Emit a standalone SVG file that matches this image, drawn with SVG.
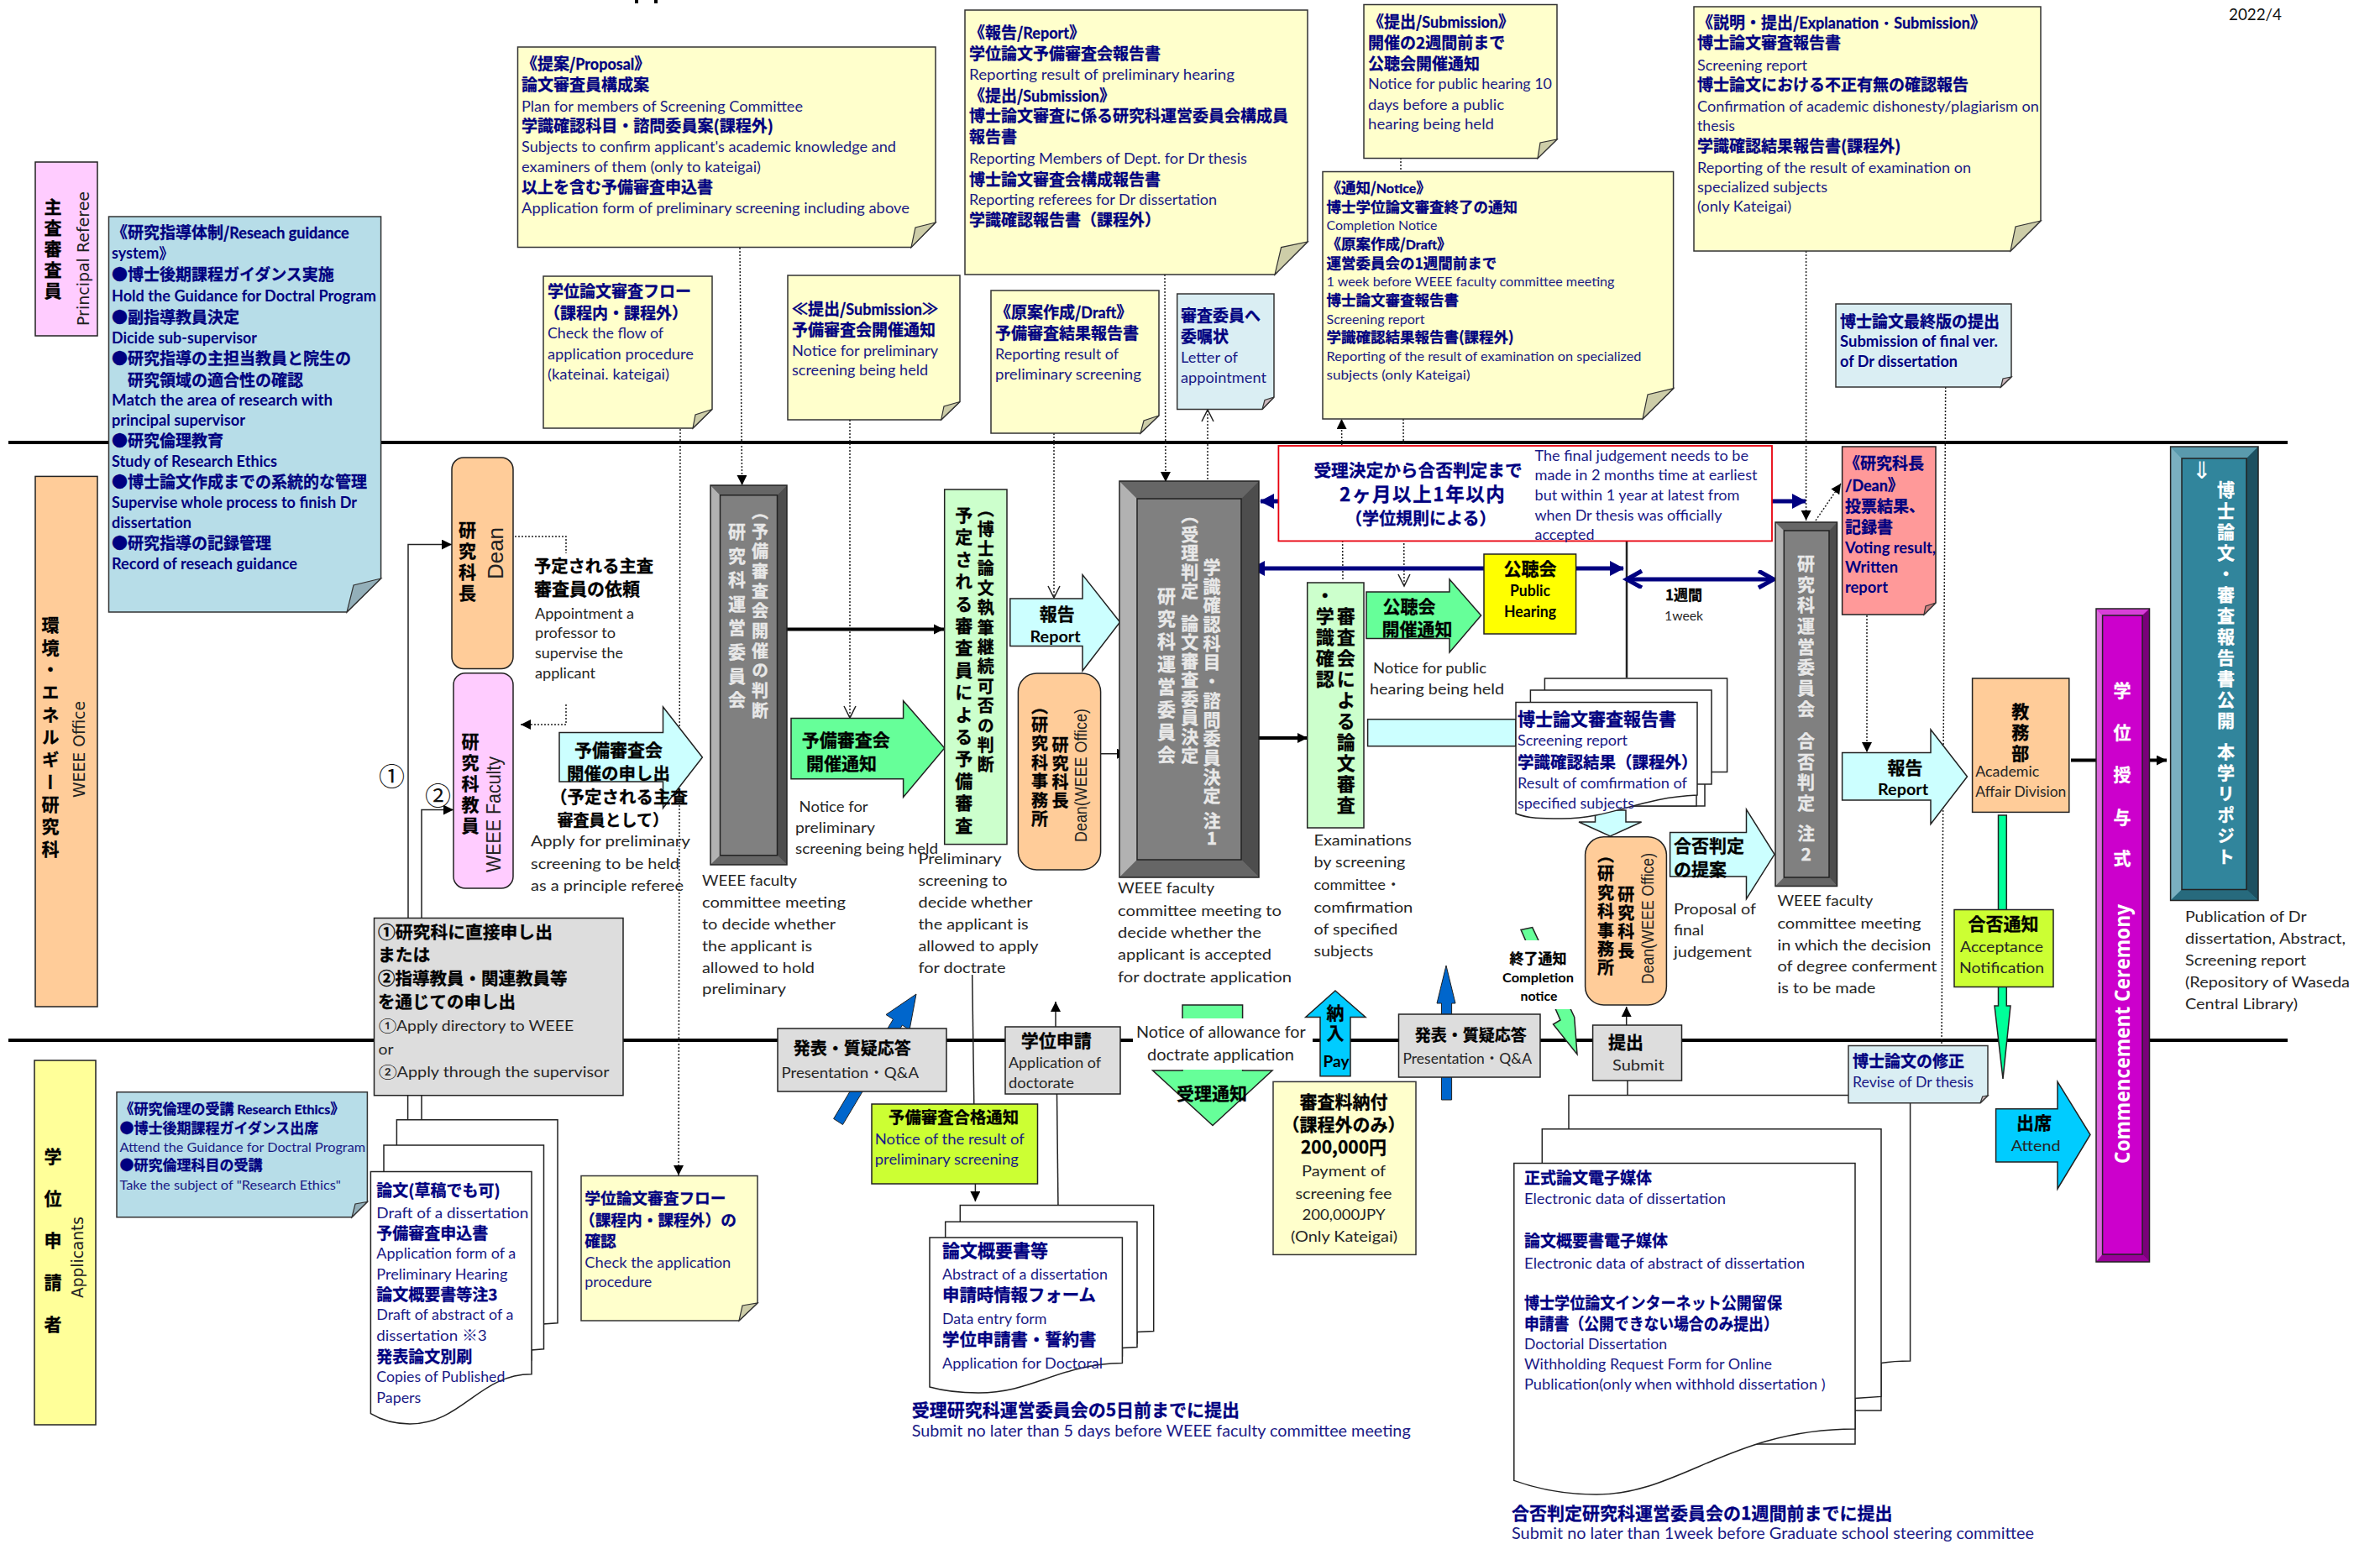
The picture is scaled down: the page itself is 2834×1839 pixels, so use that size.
<svg xmlns="http://www.w3.org/2000/svg" width="2834" height="1839" viewBox="0 0 2834 1839">
<style>
text{font-family:Lato,"Noto Sans CJK JP",sans-serif;font-size:18px;fill:#1a1a86}
.b{font-family:"Noto Sans CJK JP",sans-serif;font-weight:700;font-size:19px;fill:#000080;stroke:#000080;stroke-width:.3}
.nb{font-weight:700;fill:#000080}
.d{fill:#262626}
.kl{fill:#000;font-weight:700}
.k{font-family:"Noto Sans CJK JP",sans-serif;font-weight:700;font-size:21px;fill:#000;stroke:#000;stroke-width:.3}
.v{writing-mode:vertical-rl}
.w{fill:#e8e8e8;stroke:#e8e8e8}
.wh{fill:#fff;stroke:#fff}
.a{font-family:"Liberation Sans",sans-serif;font-size:24px;fill:#222}
.dj{font-family:"DejaVu Sans",sans-serif;font-size:19px;fill:#222}
.s{stroke:#222;stroke-width:1.5}
.y{fill:#ffffcc;stroke:#333;stroke-width:1.5}
.lb{fill:#b7dde8;stroke:#333;stroke-width:1.5}
.pb{fill:#daeef3;stroke:#333;stroke-width:1.5}
.fy{fill:#cdcda8;stroke:#333;stroke-width:1.2}
.fb{fill:#93afb9;stroke:#333;stroke-width:1.2}
.fp{fill:#ccb8bd;stroke:#333;stroke-width:1.2}
.fr{fill:#cc8080;stroke:#333;stroke-width:1.2}
.or{fill:#ffcc99}.pk{fill:#ffccff}.lg{fill:#ccffcc}.cy{fill:#ccffff}.gr{fill:#66ff99}.gy{fill:#dddddd}.lm{fill:#ccff33}.sb{fill:#00ccff}
.sh{stroke:#222;stroke-width:1.5}
.doc{fill:#fff;stroke:#222;stroke-width:1.5}
.c{fill:none;stroke:#222;stroke-width:1.5}
.dot{fill:none;stroke:#222;stroke-width:1.5;stroke-dasharray:2 2}
.th{fill:none;stroke:#000;stroke-width:4}
.nv{fill:none;stroke:#000080;stroke-width:5}
.hl{stroke:#000;stroke-width:4}
</style>
<defs>
<marker id="ms" markerUnits="userSpaceOnUse" markerWidth="14" markerHeight="14" refX="12" refY="6" orient="auto"><path d="M0,0L12,6L0,12Z" fill="#000"/></marker>
<marker id="mo" markerUnits="userSpaceOnUse" markerWidth="18" markerHeight="18" refX="15" refY="8" orient="auto"><path d="M1,1L15,8L1,15" fill="none" stroke="#222" stroke-width="1.5"/></marker>
<marker id="mn" markerUnits="userSpaceOnUse" markerWidth="22" markerHeight="22" refX="16" refY="9" orient="auto"><path d="M0,0L17,9L0,18Z" fill="#000080"/></marker>
<marker id="mb" markerUnits="userSpaceOnUse" markerWidth="34" markerHeight="34" refX="20" refY="11" orient="auto-start-reverse"><path d="M2,1L20,11L2,21" fill="none" stroke="#000080" stroke-width="5"/></marker>
</defs>
<rect width="2834" height="1839" fill="#fff"/>

<g id="lanes">
<line class="hl" x1="10" y1="527" x2="2724" y2="527"/>
<line class="hl" x1="10" y1="1239" x2="2724" y2="1239"/>
<path d="M758,0V4M781,0V4" stroke="#000" stroke-width="4"/>
</g>

<g id="connectors">
<path class="c" d="M486,1094V648.6H538" marker-end="url(#ms)"/>
<path class="c" d="M502,1094V964.6H540" marker-end="url(#ms)"/>
<path class="dot" d="M613,639H674V659"/>
<path class="dot" d="M674,839V863H620" marker-end="url(#ms)"/>
<path class="dot" d="M810,511L808,1400" marker-end="url(#ms)"/>
<path class="dot" d="M881,295L883.6,578" marker-end="url(#ms)"/>
<path class="dot" d="M1012,500V855" marker-end="url(#mo)"/>
<path class="dot" d="M1255,516V712" marker-end="url(#mo)"/>
<path class="dot" d="M1387,327L1388,574" marker-end="url(#ms)"/>
<path class="dot" d="M1438,575V488" marker-end="url(#mo)"/>
<path class="dot" d="M1668,188V204"/>
<path class="dot" d="M1671,499L1672,698" marker-end="url(#mo)"/>
<path class="dot" d="M1599,690L1597.5,499" marker-end="url(#ms)"/>
<path class="dot" d="M2150.6,299V620" marker-end="url(#ms)"/>
<path class="dot" d="M2316.7,461L2312,1245"/>
<path class="dot" d="M2162,620L2192,576" marker-end="url(#ms)"/>
<path class="dot" d="M2223,733V896" marker-end="url(#ms)"/>
<path class="th" d="M932,749.4H1124" marker-end="url(#ms)"/>
<path class="c" d="M1309,897.7H1342" marker-end="url(#ms)"/>
<path class="th" d="M1483,879H1557" marker-end="url(#ms)"/>
<path class="nv" d="M1525,597H1501" marker-end="url(#mn)"/>
<path class="nv" d="M2110,597H2150" marker-end="url(#mn)"/>
<path class="nv" d="M1767,677H1490" marker-end="url(#mn)"/>
<path class="nv" d="M1873,677H1933" marker-end="url(#mn)"/>
<path d="M1937,644V807" stroke="#222" stroke-width="2.5"/>
<path class="nv" d="M1937,690H2112" marker-start="url(#mb)" marker-end="url(#mb)"/>
<path class="th" d="M2466,905.5H2580" marker-end="url(#ms)"/>
<path class="c" d="M485.6,1305V1334M502,1305V1334"/>
<path class="c" d="M1157.7,1161L1159.8,1315"/>
<path class="c" d="M1161.4,1410V1431" marker-end="url(#ms)"/>
<path class="c" d="M1257,1223V1193" marker-end="url(#ms)"/>
<path class="c" d="M1258.5,1303L1260,1440"/>
<path class="c" d="M1936.7,1221V1199" marker-end="url(#ms)"/>
<path class="c" d="M1938,1287V1304.4"/>
</g>

<g id="principal-referee"><rect x="42" y="193" width="74" height="207" class="or" style="fill:#ffccff;stroke:#222;stroke-width:1.5"/>
<text class="k v" x="63" y="235.5" style="letter-spacing:4px">主査審査員</text>
<text class="dj" transform="translate(106,388) rotate(-90)" textLength="160" lengthAdjust="spacingAndGlyphs">Principal Referee</text></g>

<g id="weee-office"><rect x="42" y="567.4" width="74" height="631.6" class="or sh"/>
<text class="k v" x="60" y="733.5" style="letter-spacing:5.7px">環境・エネルギー研究科</text>
<text class="dj" transform="translate(101,950) rotate(-90)" textLength="115" lengthAdjust="spacingAndGlyphs">WEEE Office</text></g>

<g id="applicants"><rect x="41" y="1263" width="73" height="434" fill="#ffff99" class="sh"/>
<text class="k v" x="63" y="1367" style="letter-spacing:29px">学位申請者</text>
<text class="dj" transform="translate(99,1546) rotate(-90)" textLength="97" lengthAdjust="spacingAndGlyphs">Applicants</text></g>

<g id="note-guidance"><path class="lb" d="M129.5,258H453.6V689L413,729H129.5Z"/><path class="fb" d="M453.6,689L413,729L421,697Z"/>
<text class="b" x="133" y="284">《研究指導体制/<tspan font-size="18" font-family="Lato">Reseach guidance</tspan></text>
<text class="nb" x="133" y="308">system》</text>
<text class="b" x="133" y="334">●博士後期課程ガイダンス実施</text>
<text class="nb" x="133" y="359" textLength="315" lengthAdjust="spacingAndGlyphs">Hold the Guidance for Doctral Program</text>
<text class="b" x="133" y="385">●副指導教員決定</text>
<text class="nb" x="133" y="409" textLength="173" lengthAdjust="spacingAndGlyphs">Dicide sub-supervisor</text>
<text class="b" x="133" y="434">●研究指導の主担当教員と院生の</text>
<text class="b" x="152" y="460">研究領域の適合性の確認</text>
<text class="nb" x="133" y="483" textLength="263" lengthAdjust="spacingAndGlyphs">Match the area of  research with</text>
<text class="nb" x="133" y="507" textLength="159" lengthAdjust="spacingAndGlyphs">principal supervisor</text>
<text class="b" x="133" y="532">●研究倫理教育</text>
<text class="nb" x="133" y="556" textLength="197" lengthAdjust="spacingAndGlyphs">Study of Research Ethics</text>
<text class="b" x="133" y="581">●博士論文作成までの系統的な管理</text>
<text class="nb" x="133" y="605" textLength="292" lengthAdjust="spacingAndGlyphs">Supervise whole process to finish Dr</text>
<text class="nb" x="133" y="629" textLength="95" lengthAdjust="spacingAndGlyphs">dissertation</text>
<text class="b" x="133" y="654">●研究指導の記録管理</text>
<text class="nb" x="133" y="678" textLength="221" lengthAdjust="spacingAndGlyphs">Record of reseach guidance</text></g>

<g id="note-proposal"><path class="y" d="M616.5,56H1114V265L1085,294.6H616.5Z"/><path class="fy" d="M1114,265L1085,294.6L1090,271Z"/>
<text class="b" x="621" y="83">《提案/<tspan font-size="18" font-family="Lato">Proposal</tspan>》</text>
<text class="b" x="621" y="108">論文審査員構成案</text>
<text x="621" y="132.5" textLength="335" lengthAdjust="spacingAndGlyphs">Plan for members of Screening Committee</text>
<text class="b" x="621" y="157" textLength="300" lengthAdjust="spacingAndGlyphs">学識確認科目・諮問委員案(課程外)</text>
<text x="621" y="181" textLength="446" lengthAdjust="spacingAndGlyphs">Subjects to confirm applicant's academic knowledge and</text>
<text x="621" y="204.5" textLength="285" lengthAdjust="spacingAndGlyphs">examiners of them (only to kateigai)</text>
<text class="b" x="621" y="230">以上を含む予備審査申込書</text>
<text x="621" y="254" textLength="462" lengthAdjust="spacingAndGlyphs">Application form of preliminary screening  including above</text></g>

<g id="note-flow"><path class="y" d="M647,329H848V487.5L825,510H647Z"/><path class="fy" d="M848,487.5L825,510L828,494Z"/>
<text class="b" x="652" y="354">学位論文審査フロー</text>
<text class="b" x="648" y="380">（課程内・課程外）</text>
<text x="652" y="403" textLength="138" lengthAdjust="spacingAndGlyphs">Check the flow of</text>
<text x="652" y="427.5" textLength="174" lengthAdjust="spacingAndGlyphs">application procedure</text>
<text x="652" y="451.6" textLength="145" lengthAdjust="spacingAndGlyphs">(kateinai. kateigai)</text></g>

<g id="note-submission1"><path class="y" d="M938,328H1143V478.5L1120.7,500H938Z"/><path class="fy" d="M1143,478.5L1120.7,500L1124,484Z"/>
<text class="b" x="943" y="375">≪提出/<tspan font-size="18" font-family="Lato">Submission</tspan>≫</text>
<text class="b" x="943" y="399.6">予備審査会開催通知</text>
<text x="943" y="423.5" textLength="174" lengthAdjust="spacingAndGlyphs">Notice for preliminary</text>
<text x="943" y="447" textLength="162" lengthAdjust="spacingAndGlyphs">screening being held</text></g>

<g id="note-report"><path class="y" d="M1149,12H1557V288L1518,327H1149Z"/><path class="fy" d="M1557,288L1518,327L1525.6,294.6Z"/>
<text class="b" x="1154" y="46">《報告/<tspan font-size="18" font-family="Lato">Report</tspan>》</text>
<text class="b" x="1154" y="71">学位論文予備審査会報告書</text>
<text x="1154" y="95" textLength="316" lengthAdjust="spacingAndGlyphs">Reporting result of  preliminary  hearing</text>
<text class="b" x="1154" y="121">《提出/<tspan font-size="18" font-family="Lato">Submission</tspan>》</text>
<text class="b" x="1154" y="145">博士論文審査に係る研究科運営委員会構成員</text>
<text class="b" x="1154" y="170">報告書</text>
<text x="1154" y="195" textLength="331" lengthAdjust="spacingAndGlyphs">Reporting  Members of Dept. for Dr thesis</text>
<text class="b" x="1154" y="220.5">博士論文審査会構成報告書</text>
<text x="1154" y="244" textLength="295" lengthAdjust="spacingAndGlyphs">Reporting referees for Dr dissertation</text>
<text class="b" x="1154" y="269">学識確認報告書（課程外）</text></g>

<g id="note-draft"><path class="y" d="M1180,346H1380V495L1358,516H1180Z"/><path class="fy" d="M1380,495L1358,516L1362,501Z"/>
<text class="b" x="1185" y="379">《原案作成/<tspan font-size="18" font-family="Lato">Draft</tspan>》</text>
<text class="b" x="1185" y="403.6">予備審査結果報告書</text>
<text x="1185" y="428" textLength="147" lengthAdjust="spacingAndGlyphs">Reporting result of</text>
<text x="1185" y="451.6" textLength="174" lengthAdjust="spacingAndGlyphs">preliminary  screening</text></g>

<g id="note-letter"><path class="pb" d="M1401.7,350H1517V473L1503,487.5H1401.7Z"/><path class="fp" d="M1517,473L1503,487.5L1506,476.5Z"/>
<text class="b" x="1406" y="382.6">審査委員へ</text>
<text class="b" x="1406" y="408">委嘱状</text>
<text x="1406" y="432" textLength="68" lengthAdjust="spacingAndGlyphs">Letter of</text>
<text x="1406" y="456" textLength="102" lengthAdjust="spacingAndGlyphs">appointment</text></g>

<g id="note-submission2"><path class="y" d="M1624,5.5H1854V166L1831,188.6H1624Z"/><path class="fy" d="M1854,166L1831,188.6L1834,170Z"/>
<text class="b" x="1629" y="32.7">《提出/<tspan font-size="18" font-family="Lato">Submission</tspan>》</text>
<text class="b" x="1629" y="57.6">開催の2週間前まで</text>
<text class="b" x="1629" y="83">公聴会開催通知</text>
<text x="1629" y="106" textLength="219" lengthAdjust="spacingAndGlyphs">Notice for public hearing 10</text>
<text x="1629" y="130.5" textLength="162" lengthAdjust="spacingAndGlyphs">days before  a public</text>
<text x="1629" y="154" textLength="150" lengthAdjust="spacingAndGlyphs">hearing  being held</text></g>

<g id="note-notice"><path class="y" d="M1575,204.4H1992.6V462.6L1956,499H1575Z"/><path class="fy" d="M1992.6,462.6L1956,499L1962,470Z"/>
<text class="b" x="1579.5" y="230" style="font-size:17.5px">《通知/<tspan font-size="16" font-family="Lato">Notice</tspan>》</text>
<text class="b" x="1579.5" y="252.5" style="font-size:17.5px">博士学位論文審査終了の通知</text>
<text x="1579.5" y="273.5" style="font-size:16px" textLength="132" lengthAdjust="spacingAndGlyphs">Completion Notice</text>
<text class="b" x="1579.5" y="297" style="font-size:17.5px">《原案作成/<tspan font-size="16" font-family="Lato">Draft</tspan>》</text>
<text class="b" x="1579.5" y="319.5" style="font-size:17.5px">運営委員会の1週間前まで</text>
<text x="1579.5" y="341" style="font-size:16px" textLength="343" lengthAdjust="spacingAndGlyphs">1 week before WEEE faculty committee meeting</text>
<text class="b" x="1579.5" y="364" style="font-size:17.5px">博士論文審査報告書</text>
<text x="1579.5" y="385.5" style="font-size:16px" textLength="117" lengthAdjust="spacingAndGlyphs">Screening report</text>
<text class="b" x="1579.5" y="407.5" style="font-size:17.5px">学識確認結果報告書(課程外)</text>
<text x="1579.5" y="429.5" style="font-size:16px" textLength="375" lengthAdjust="spacingAndGlyphs">Reporting of the result of examination on specialized</text>
<text x="1579.5" y="451.5" style="font-size:16px" textLength="171" lengthAdjust="spacingAndGlyphs">subjects   (only Kateigai)</text></g>

<g id="note-explanation"><path class="y" d="M2017,8H2430V263L2394,299H2017Z"/><path class="fy" d="M2430,263L2394,299L2400,270Z"/>
<text class="b" x="2021" y="34">《説明・提出/<tspan font-size="18" font-family="Lato">Explanation・Submission</tspan>》</text>
<text class="b" x="2021" y="58.4">博士論文審査報告書</text>
<text x="2021" y="83.5" textLength="131" lengthAdjust="spacingAndGlyphs">Screening report</text>
<text class="b" x="2021" y="108">博士論文における不正有無の確認報告</text>
<text x="2021" y="132.5" textLength="407" lengthAdjust="spacingAndGlyphs">Confirmation of academic dishonesty/plagiarism on</text>
<text x="2021" y="155.5" textLength="45" lengthAdjust="spacingAndGlyphs">thesis</text>
<text class="b" x="2021" y="181">学識確認結果報告書(課程外)</text>
<text x="2021" y="205.7" textLength="326" lengthAdjust="spacingAndGlyphs">Reporting of the result of examination on</text>
<text x="2021" y="228.6" textLength="155" lengthAdjust="spacingAndGlyphs">specialized subjects</text>
<text x="2021" y="252" textLength="112" lengthAdjust="spacingAndGlyphs">(only Kateigai)</text></g>

<g id="date"><text x="2654" y="24" style="fill:#111;font-size:20px" textLength="63" lengthAdjust="spacingAndGlyphs">2022/4</text></g>

<g id="note-final"><path class="pb" d="M2186,362H2395V449L2382.5,461H2186Z"/><path class="fp" d="M2395,449L2382.5,461L2385,451Z"/>
<text class="b" x="2191" y="390">博士論文最終版の提出</text>
<text class="nb" x="2191" y="413" textLength="188" lengthAdjust="spacingAndGlyphs">Submission of final ver.</text>
<text class="nb" x="2191" y="437" textLength="140" lengthAdjust="spacingAndGlyphs">of Dr dissertation</text></g>

<g id="note-dean"><path d="M2193.6,532H2305V718L2291,732H2193.6Z" fill="#ff9999" class="sh"/><path class="fr" d="M2305,718L2291,732L2293,722Z"/>
<text class="b" x="2196" y="559">《研究科長</text>
<text class="b" x="2197" y="584.6"><tspan font-size="18" font-family="Lato">/Dean</tspan>》</text>
<text class="b" x="2197" y="610">投票結果、</text>
<text class="b" x="2197" y="635">記録書</text>
<text class="nb" x="2197" y="659" textLength="108" lengthAdjust="spacingAndGlyphs">Voting result,</text>
<text class="nb" x="2197" y="682" textLength="63" lengthAdjust="spacingAndGlyphs">Written</text>
<text class="nb" x="2197" y="706" textLength="51" lengthAdjust="spacingAndGlyphs">report</text></g>

<g id="dean"><rect x="538" y="545" width="73" height="251.5" rx="14" class="or sh"/>
<text class="k v" x="556.5" y="620.5" style="letter-spacing:4px">研究科長</text>
<text class="a" transform="translate(599,690) rotate(-90)" style="font-size:26px" textLength="62" lengthAdjust="spacingAndGlyphs">Dean</text>
</g>
<g id="faculty"><rect x="540" y="801.7" width="71" height="256.3" rx="14" class="pk sh"/>
<text class="k v" x="560" y="873" style="letter-spacing:4px">研究科教員</text>
<text class="a" transform="translate(595.5,1039) rotate(-90)" textLength="138" lengthAdjust="spacingAndGlyphs">WEEE Faculty</text>
</g>
<g id="route-labels"><text x="466.5" y="936" text-anchor="middle" style="font-size:31px;fill:#111;font-family:'Noto Sans CJK JP',sans-serif">①</text>
<text x="521.6" y="958.6" text-anchor="middle" style="font-size:31px;fill:#111;font-family:'Noto Sans CJK JP',sans-serif">②</text></g>

<g id="request-text">
<text class="k" x="636" y="682" style="font-size:20.3px">予定される主査</text>
<text class="k" x="636" y="709">審査員の依頼</text>
<text class="d" x="637" y="736.5" textLength="118" lengthAdjust="spacingAndGlyphs">Appointment a</text>
<text class="d" x="637" y="760" textLength="96" lengthAdjust="spacingAndGlyphs">professor to</text>
<text class="d" x="637" y="784" textLength="105" lengthAdjust="spacingAndGlyphs">supervise the</text>
<text class="d" x="637" y="808" textLength="72" lengthAdjust="spacingAndGlyphs">applicant</text>
</g>

<g id="arrow-apply"><path class="cy sh" d="M666,872.4H789.5V842L836.4,902L789.5,962.5V931H666Z"/>
<text class="k" x="684" y="901">予備審査会</text>
<text class="k" x="675" y="929" style="font-size:20.5px">開催の申し出</text>
<text class="k" x="655" y="957" style="font-size:20.5px">（予定される主査</text>
<text class="k" x="663.5" y="984" style="font-size:19px">審査員として）</text>
<text class="d" x="632" y="1008" textLength="190" lengthAdjust="spacingAndGlyphs">Apply for  preliminary</text>
<text class="d" x="632" y="1034.6" textLength="177" lengthAdjust="spacingAndGlyphs">screening to be held</text>
<text class="d" x="632" y="1061" textLength="182" lengthAdjust="spacingAndGlyphs">as a principle referee</text></g>

<g id="committee1"><rect x="846" y="578" width="91" height="452" fill="#808080"/>
<path d="M846,578L857.5,589.7V1018.7L846,1030Z" fill="#b2b2b2"/><path d="M846,578H937L925.5,589.7H857.5Z" fill="#666"/><path d="M937,578V1030L925.5,1018.7V589.7Z" fill="#4d4d4d"/><path d="M846,1030L857.5,1018.7H925.5L937,1030Z" fill="#666"/>
<path d="M846,578H937V1030H846ZM857.5,589.7H925.5V1018.7H857.5Z" fill="none" class="sh"/>
<text class="k v w" x="877.5" y="622.5" style="letter-spacing:7.6px">研究科運営委員会</text>
<text class="k v w" x="905" y="599.3" style="font-size:20px;letter-spacing:3.7px">︵予備審査会開催の判断</text>
<text class="d" x="836" y="1055" textLength="113" lengthAdjust="spacingAndGlyphs">WEEE faculty</text>
<text class="d" x="836" y="1081" textLength="171" lengthAdjust="spacingAndGlyphs">committee meeting</text>
<text class="d" x="836" y="1106.5" textLength="159" lengthAdjust="spacingAndGlyphs">to decide whether</text>
<text class="d" x="836" y="1133" textLength="131" lengthAdjust="spacingAndGlyphs">the applicant is</text>
<text class="d" x="836" y="1159" textLength="134" lengthAdjust="spacingAndGlyphs">allowed to hold</text>
<text class="d" x="836" y="1184" textLength="100" lengthAdjust="spacingAndGlyphs">preliminary</text></g>

<g id="arrow-notice1"><path class="gr sh" d="M942,855.4H1075.6V834.8L1124.7,891L1075.6,949.5V927.7H942Z"/>
<text class="k" x="954.8" y="889">予備審査会</text>
<text class="k" x="960" y="917">開催通知</text>
<text class="d" x="951.6" y="967" textLength="82" lengthAdjust="spacingAndGlyphs">Notice for</text>
<text class="d" x="947" y="992" textLength="95" lengthAdjust="spacingAndGlyphs">preliminary</text>
<text class="d" x="947" y="1017" textLength="170" lengthAdjust="spacingAndGlyphs">screening being held</text></g>

<g id="prelim-screening"><rect x="1124.7" y="583" width="74.3" height="422.6" class="lg sh"/>
<text class="k v" x="1173.8" y="596.6" style="font-size:20px;letter-spacing:3.4px">︵博士論文執筆継続可否の判断</text>
<text class="k v" x="1147.7" y="602.5" style="letter-spacing:5.4px">予定される審査員による予備審査</text>
<text class="d" x="1093.5" y="1028.6" textLength="99" lengthAdjust="spacingAndGlyphs">Preliminary</text>
<text class="d" x="1093.5" y="1055" textLength="106" lengthAdjust="spacingAndGlyphs">screening to</text>
<text class="d" x="1093.5" y="1081" textLength="136" lengthAdjust="spacingAndGlyphs">decide whether</text>
<text class="d" x="1093.5" y="1106.5" textLength="131" lengthAdjust="spacingAndGlyphs">the applicant is</text>
<text class="d" x="1093.5" y="1133" textLength="143" lengthAdjust="spacingAndGlyphs">allowed to apply</text>
<text class="d" x="1093.5" y="1159" textLength="104" lengthAdjust="spacingAndGlyphs">for doctrate</text></g>

<g id="arrow-report1"><path class="cy sh" d="M1202.8,713H1289V684.6L1333.6,741L1289,799V769.6H1202.8Z"/>
<text class="k" x="1258.8" y="739" text-anchor="middle">報告</text>
<text class="kl" x="1226.5" y="765" textLength="60" lengthAdjust="spacingAndGlyphs">Report</text></g>

<g id="dean-office1"><rect x="1212.4" y="802" width="98.2" height="234" rx="22" class="or sh"/>
<text class="k v" x="1238" y="831" style="font-size:20px;letter-spacing:2.4px">︵研究科事務所</text>
<text class="k v" x="1262.4" y="877" style="font-size:20px;letter-spacing:2.2px">研究科長</text>
<text class="a" transform="translate(1294,1003) rotate(-90)" style="font-size:21px" textLength="159" lengthAdjust="spacingAndGlyphs">Dean(WEEE Office)</text></g>

<g id="committee2"><rect x="1333" y="573" width="166" height="472" fill="#808080"/>
<path d="M1333,573L1354,594V1024L1333,1045Z" fill="#b2b2b2"/><path d="M1333,573H1499L1478,594H1354Z" fill="#666"/><path d="M1499,573V1045L1478,1024V594Z" fill="#4d4d4d"/><path d="M1333,1045L1354,1024H1478L1499,1045Z" fill="#666"/>
<path d="M1333,573H1499V1045H1333ZM1354,594H1478V1024H1354Z" fill="none" class="sh"/>
<text class="k v w" x="1389" y="699" style="font-size:22px;letter-spacing:5px">研究科運営委員会</text>
<text class="k v w" x="1416.7" y="603" style="letter-spacing:1.5px">︵受理判定</text>
<text class="k v w" x="1416.7" y="731.5" style="letter-spacing:1.5px">論文審査委員決定</text>
<text class="k v w" x="1443" y="664.5" style="letter-spacing:1.7px">学識確認科目・諮問委員決定</text>
<text class="k v w" x="1443" y="966.5" style="letter-spacing:1.7px">注</text>
<text class="k w" x="1443" y="1006" text-anchor="middle">1</text>
<text class="d" x="1331" y="1064" textLength="115" lengthAdjust="spacingAndGlyphs">WEEE faculty</text>
<text class="d" x="1331" y="1091" textLength="195" lengthAdjust="spacingAndGlyphs">committee meeting to</text>
<text class="d" x="1331" y="1117" textLength="171" lengthAdjust="spacingAndGlyphs">decide whether the</text>
<text class="d" x="1331" y="1143" textLength="183" lengthAdjust="spacingAndGlyphs">applicant is accepted</text>
<text class="d" x="1331" y="1170" textLength="207" lengthAdjust="spacingAndGlyphs">for doctrate application</text></g>

<g id="acceptance-period"><rect x="1522.4" y="531" width="587.6" height="113.4" fill="#fff" stroke="#e8000d" stroke-width="1.8"/>
<text class="b" x="1564.4" y="567.5" style="font-size:20.7px">受理決定から合否判定まで</text>
<text class="b" x="1595" y="596.5" style="font-size:22.5px;letter-spacing:1.6px">2ヶ月以上1年以内</text>
<text class="b" x="1602" y="624.5" style="font-size:20px">（学位規則による）</text>
<text x="1827.5" y="548.5" textLength="254.5" lengthAdjust="spacingAndGlyphs">The final judgement needs to be</text>
<text x="1827.5" y="572" textLength="265" lengthAdjust="spacingAndGlyphs">made in 2 months time at earliest</text>
<text x="1827.5" y="596" textLength="244" lengthAdjust="spacingAndGlyphs">but within 1 year at latest from</text>
<text x="1827.5" y="620" textLength="223" lengthAdjust="spacingAndGlyphs">when Dr thesis was officially</text>
<text x="1827.5" y="643" textLength="71" lengthAdjust="spacingAndGlyphs">accepted</text></g>

<g id="public-hearing"><rect x="1767" y="660" width="109.6" height="95" fill="#ffff00" class="sh"/>
<text class="k" x="1822" y="685" text-anchor="middle">公聴会</text>
<text class="kl" x="1798" y="710" textLength="48" lengthAdjust="spacingAndGlyphs">Public</text>
<text class="kl" x="1791" y="734.6" textLength="62" lengthAdjust="spacingAndGlyphs">Hearing</text></g>

<g id="one-week"><text class="k" x="1983" y="715" style="font-size:17px">1週間</text>
<text class="d" x="1982" y="739" style="font-size:15px" textLength="46" lengthAdjust="spacingAndGlyphs">1week</text></g>

<g id="examination"><rect x="1556.7" y="694" width="67.3" height="292" class="lg sh"/>
<text class="k v" x="1602.7" y="723" style="font-size:22px;letter-spacing:3px">審査会による論文審査</text>
<text class="k v" x="1577.7" y="698" style="font-size:22px;letter-spacing:3px">・学識確認</text>
<text class="d" x="1564.4" y="1006.6" textLength="116.6" lengthAdjust="spacingAndGlyphs">Examinations</text>
<text class="d" x="1564.4" y="1033" textLength="109" lengthAdjust="spacingAndGlyphs">by screening</text>
<text class="d" x="1564.4" y="1060" textLength="104" lengthAdjust="spacingAndGlyphs">committee・</text>
<text class="d" x="1564.4" y="1086.5" textLength="118" lengthAdjust="spacingAndGlyphs">comfirmation</text>
<text class="d" x="1564.4" y="1112.6" textLength="100" lengthAdjust="spacingAndGlyphs">of specified</text>
<text class="d" x="1564.4" y="1139" textLength="71" lengthAdjust="spacingAndGlyphs">subjects</text></g>

<g id="arrow-notice2"><path class="gr sh" d="M1627,705H1726V690L1763.6,733L1726,777V760.6H1627Z"/>
<text class="k" x="1646.6" y="730">公聴会</text>
<text class="k" x="1645.6" y="757">開催通知</text>
<text class="d" x="1635" y="802" textLength="135" lengthAdjust="spacingAndGlyphs">Notice for public</text>
<text class="d" x="1631" y="827" textLength="160" lengthAdjust="spacingAndGlyphs">hearing  being  held</text></g>

<g id="doc-screening">
<path d="M1899.5,965H1936V979H1954.6L1917.4,996L1880,979H1899.5Z" class="cy sh"/>
<rect x="1628.6" y="856.7" width="176.4" height="32" class="cy sh"/>
<path class="doc" d="M1839.4,808H2056.6V919.6H2030V960H1839.4Z"/>
<path class="doc" d="M1822.4,822H2038V934H2020V960H1822.4Z"/>
<path class="doc" d="M1805,836.6H2021V947C1950,950 1920,975 1860,975C1835,975 1820,975 1805,969Z"/>
<text class="b" x="1807" y="863.5" style="font-size:21px">博士論文審査報告書</text>
<text x="1807" y="888.4" textLength="131" lengthAdjust="spacingAndGlyphs">Screening report</text>
<text class="b" x="1807" y="915" style="font-size:19.5px">学識確認結果（課程外）</text>
<text x="1807" y="939.4" textLength="202" lengthAdjust="spacingAndGlyphs">Result of comfirmation of</text>
<text x="1807" y="963" textLength="139" lengthAdjust="spacingAndGlyphs">specified subjects</text></g>

<g id="dean-office2"><rect x="1887.6" y="996.7" width="96.8" height="200.3" rx="22" class="or sh"/>
<text class="k v" x="1912" y="1008.5" style="font-size:20px;letter-spacing:2.4px">︵研究科事務所</text>
<text class="k v" x="1936.3" y="1055" style="font-size:20px;letter-spacing:2.4px">研究科長</text>
<text class="a" transform="translate(1969,1172) rotate(-90)" style="font-size:20px" textLength="156" lengthAdjust="spacingAndGlyphs">Dean(WEEE Office)</text></g>

<g id="arrow-proposal"><path class="cy sh" d="M1988.6,991.6H2079.5V964L2113,1017.6L2079.5,1070.6V1044H1988.6Z"/>
<text class="k" x="1993" y="1015">合否判定</text>
<text class="k" x="1993" y="1042.5">の提案</text>
<text class="d" x="1993" y="1088.5" textLength="98" lengthAdjust="spacingAndGlyphs">Proposal of</text>
<text class="d" x="1993" y="1114" textLength="36" lengthAdjust="spacingAndGlyphs">final</text>
<text class="d" x="1993" y="1140" textLength="93" lengthAdjust="spacingAndGlyphs">judgement</text></g>

<g id="completion-notice"><path class="gr sh" d="M1811,1107.4L1824.7,1104.6L1874.7,1211.5L1878,1255.7L1849.5,1220L1858,1215Z"/>
<rect x="1786" y="1120" width="92" height="82" fill="#fff"/>
<text class="k" x="1797.6" y="1148" style="font-size:17px">終了通知</text>
<text class="kl" x="1789" y="1170" style="font-size:15px" textLength="85" lengthAdjust="spacingAndGlyphs">Completion</text>
<text class="kl" x="1810.5" y="1192" style="font-size:15px" textLength="44" lengthAdjust="spacingAndGlyphs">notice</text></g>

<g id="committee3"><rect x="2114" y="622" width="73.5" height="433.6" fill="#808080"/>
<path d="M2114,622L2124.3,632V1045L2114,1055.6Z" fill="#b2b2b2"/><path d="M2114,622H2187.5L2178,632H2124.3Z" fill="#666"/><path d="M2187.5,622V1055.6L2178,1045V632Z" fill="#4d4d4d"/><path d="M2114,1055.6L2124.3,1045H2178L2187.5,1055.6Z" fill="#666"/>
<path d="M2114,622H2187.5V1055.6H2114ZM2124.3,632H2178V1045H2124.3Z" fill="none" class="sh"/>
<text class="k v w" x="2150.6" y="660.5" style="letter-spacing:3.7px">研究科運営委員会</text>
<text class="k v w" x="2150.6" y="871.5" style="letter-spacing:3.7px">合否判定</text>
<text class="k v w" x="2150.6" y="981.5" style="letter-spacing:3.7px">注</text>
<text class="k w" x="2150.6" y="1025" text-anchor="middle">2</text>
<text class="d" x="2116.4" y="1079" textLength="114" lengthAdjust="spacingAndGlyphs">WEEE faculty</text>
<text class="d" x="2116.4" y="1105.5" textLength="171" lengthAdjust="spacingAndGlyphs">committee meeting</text>
<text class="d" x="2116.4" y="1131.5" textLength="183" lengthAdjust="spacingAndGlyphs">in which the decision</text>
<text class="d" x="2116.4" y="1157.4" textLength="190" lengthAdjust="spacingAndGlyphs">of degree conferment</text>
<text class="d" x="2116.4" y="1183" textLength="117" lengthAdjust="spacingAndGlyphs">is to be made</text></g>

<g id="arrow-report2"><path class="cy sh" d="M2193.6,896.6H2299V869L2342.5,925L2299,981.5V953H2193.6Z"/>
<text class="k" x="2268.5" y="921.5" text-anchor="middle">報告</text>
<text class="kl" x="2236" y="947.4" textLength="60" lengthAdjust="spacingAndGlyphs">Report</text></g>

<g id="academic"><rect x="2348.6" y="808" width="115.2" height="159.4" class="or sh"/>
<text class="k" x="2405.7" y="854.5" text-anchor="middle">教</text>
<text class="k" x="2405.7" y="880" text-anchor="middle">務</text>
<text class="k" x="2405.7" y="905" text-anchor="middle">部</text>
<text class="d" x="2352.3" y="925" textLength="76" lengthAdjust="spacingAndGlyphs">Academic</text>
<text class="d" x="2352.3" y="949.3" textLength="108" lengthAdjust="spacingAndGlyphs">Affair Division</text></g>

<g id="acceptance"><path d="M2379.5,971H2389.3V1198H2394L2385,1285L2375,1198H2379.5Z" fill="#00ff99" class="sh"/>
<rect x="2327" y="1083.5" width="118" height="92" class="lm sh"/>
<text class="k" x="2385.6" y="1108" text-anchor="middle">合否通知</text>
<text class="d" x="2334" y="1134" textLength="99" lengthAdjust="spacingAndGlyphs">Acceptance</text>
<text class="d" x="2333" y="1159" textLength="101" lengthAdjust="spacingAndGlyphs">Notification</text></g>

<g id="ceremony"><rect x="2496" y="725" width="63.5" height="778" fill="#cc00cc"/>
<path d="M2496,725L2503.6,733V1494L2496,1503Z" fill="#db66db"/><path d="M2496,725H2559.5L2551,733H2503.6Z" fill="#d83fd8"/><path d="M2559.5,725V1503L2551,1494V733Z" fill="#7a007a"/><path d="M2496,1503L2503.6,1494H2551L2559.5,1503Z" fill="#990099"/>
<path d="M2496,725H2559.5V1503H2496ZM2503.6,733H2551V1494H2503.6Z" fill="none" class="sh"/>
<text class="k wh" x="2527" y="830" text-anchor="middle">学</text>
<text class="k wh" x="2527" y="880" text-anchor="middle">位</text>
<text class="k wh" x="2527" y="930" text-anchor="middle">授</text>
<text class="k wh" x="2527" y="981" text-anchor="middle">与</text>
<text class="k wh" x="2527" y="1030" text-anchor="middle">式</text>
<text transform="translate(2536,1386) rotate(-90)" style="font-family:'Open Sans',sans-serif;font-weight:700;font-size:25px;fill:#fff" textLength="309" lengthAdjust="spacingAndGlyphs">Commencement Ceremony</text></g>

<g id="repository"><rect x="2584.6" y="532" width="104.4" height="540.6" fill="#31859c"/>
<path d="M2584.6,532L2598,546V1059.4L2584.6,1072.6Z" fill="#7ab0c0"/><path d="M2584.6,532H2689L2675,546H2598Z" fill="#5a9aad"/><path d="M2689,532V1072.6L2675,1059.4V546Z" fill="#1d5060"/><path d="M2584.6,1072.6L2598,1059.4H2675L2689,1072.6Z" fill="#276a7d"/>
<path d="M2584.6,532H2689V1072.6H2584.6ZM2598,546H2675V1059.4H2598Z" fill="none" class="sh"/>
<text x="2622" y="570" text-anchor="middle" style="font-family:'DejaVu Sans',sans-serif;font-size:28px;fill:#fff">⇓</text>
<text class="k v wh" x="2650.6" y="573" style="letter-spacing:4px">博士論文・審査報告書公開</text>
<text class="k v wh" x="2650.6" y="884.5" style="letter-spacing:4px">本学リポジト</text>
<text class="d" x="2602" y="1098.4" textLength="144.5" lengthAdjust="spacingAndGlyphs">Publication of Dr</text>
<text class="d" x="2602" y="1124.4" textLength="191" lengthAdjust="spacingAndGlyphs">dissertation, Abstract,</text>
<text class="d" x="2602" y="1150" textLength="144" lengthAdjust="spacingAndGlyphs">Screening report</text>
<text class="d" x="2602" y="1176" textLength="196" lengthAdjust="spacingAndGlyphs">(Repository of Waseda</text>
<text class="d" x="2602" y="1202" textLength="134" lengthAdjust="spacingAndGlyphs">Central Library)</text></g>

<g id="apply-route"><rect x="445.5" y="1093.5" width="296.5" height="211.2" class="gy sh"/>
<text class="k" x="450" y="1118" style="font-size:20.8px">①研究科に直接申し出</text>
<text class="k" x="450" y="1145" style="font-size:20.8px">または</text>
<text class="k" x="450" y="1173" style="font-size:20.5px">②指導教員・関連教員等</text>
<text class="k" x="450" y="1201" style="font-size:20.5px">を通じての申し出</text>
<text class="d" x="450.6" y="1228" textLength="232.5" lengthAdjust="spacingAndGlyphs">①Apply directory to WEEE</text>
<text class="d" x="450.6" y="1256" textLength="18" lengthAdjust="spacingAndGlyphs">or</text>
<text class="d" x="450.6" y="1282.6" textLength="275" lengthAdjust="spacingAndGlyphs">②Apply through the supervisor</text></g>

<g id="doc-draft">
<path class="doc" d="M472.4,1333.7H664V1575.7L647,1577V1600H472.4Z"/>
<path class="doc" d="M457,1364H647.5V1606.7L633,1608V1620H457Z"/>
<path class="doc" d="M441.4,1395.6H633V1636.8C570,1636.8 550,1696 488,1696C470,1696 455,1692 441.4,1683.7Z"/>
<text class="b" x="448.3" y="1425">論文(草稿でも可)</text>
<text x="448.3" y="1450.5" textLength="181" lengthAdjust="spacingAndGlyphs">Draft of a   dissertation</text>
<text class="b" x="448.3" y="1476">予備審査申込書</text>
<text x="448.3" y="1499.4" textLength="166" lengthAdjust="spacingAndGlyphs">Application form of a</text>
<text x="448.3" y="1523.8" textLength="156" lengthAdjust="spacingAndGlyphs">Preliminary Hearing</text>
<text class="b" x="448.3" y="1548.5">論文概要書等注3</text>
<text x="448.3" y="1572" textLength="163" lengthAdjust="spacingAndGlyphs">Draft of abstract of a</text>
<text x="448.3" y="1597" textLength="131.5" lengthAdjust="spacingAndGlyphs">dissertation  ※3</text>
<text class="b" x="448.3" y="1622.6">発表論文別刷</text>
<text x="448.3" y="1646" textLength="153" lengthAdjust="spacingAndGlyphs">Copies of Published</text>
<text x="448.3" y="1670.5" textLength="53" lengthAdjust="spacingAndGlyphs">Papers</text></g>

<g id="note-ethics"><path class="lb" d="M139,1300.7H437.4V1431.5L419,1449.8H139Z"/><path class="fb" d="M437.4,1431.5L419,1449.8L423,1434Z"/>
<text class="b" x="142.4" y="1327.4" style="font-size:17px">《研究倫理の受講 <tspan font-size="16" font-family="Lato">Research Ethics</tspan>》</text>
<text class="b" x="142.4" y="1350" style="font-size:17px">●博士後期課程ガイダンス出席</text>
<text x="142.4" y="1372" style="font-size:16px" textLength="292.7" lengthAdjust="spacingAndGlyphs">Attend the Guidance for Doctral Program</text>
<text class="b" x="142.4" y="1394" style="font-size:17px">●研究倫理科目の受講</text>
<text x="142.4" y="1417" style="font-size:16px" textLength="263.5" lengthAdjust="spacingAndGlyphs">Take the subject of "Research Ethics"</text></g>

<g id="note-check"><path class="y" d="M692,1400.5H902V1552L880,1573H692Z"/><path class="fy" d="M902,1552L880,1573L884,1555Z"/>
<text class="b" x="696.3" y="1434" style="font-size:18.7px">学位論文審査フロー</text>
<text class="b" x="690" y="1459.6" style="font-size:18.7px">（課程内・課程外）の</text>
<text class="b" x="696.3" y="1485" style="font-size:18.7px">確認</text>
<text x="696.3" y="1509.6" textLength="174" lengthAdjust="spacingAndGlyphs">Check the  application</text>
<text x="696.3" y="1533" textLength="80" lengthAdjust="spacingAndGlyphs">procedure</text></g>

<g id="presentation1"><path d="M992.6,1332.5L1003.5,1339.5L1074.4,1221L1083,1226.8L1091,1184L1055,1208.5L1063.5,1214Z" fill="#0066cc" stroke="#222" stroke-width="1"/>
<rect x="926" y="1225" width="201" height="75" class="gy sh"/>
<text class="k" x="944.7" y="1255.5" style="font-size:20px">発表・質疑応答</text>
<text class="d" x="930.5" y="1283.5" textLength="163.5" lengthAdjust="spacingAndGlyphs">Presentation・Q&amp;A</text></g>

<g id="prelim-result"><rect x="1038" y="1315" width="197.5" height="95" class="lm sh"/>
<text class="k" x="1058" y="1338" style="font-size:19.4px">予備審査合格通知</text>
<text x="1041.8" y="1362.5" textLength="178" lengthAdjust="spacingAndGlyphs">Notice of the result  of</text>
<text x="1041.8" y="1387" textLength="171" lengthAdjust="spacingAndGlyphs">preliminary screening</text></g>

<g id="application"><rect x="1197" y="1223" width="137" height="80" class="gy sh"/>
<text class="k" x="1215.7" y="1247">学位申請</text>
<text class="d" x="1201" y="1272" textLength="110" lengthAdjust="spacingAndGlyphs">Application of</text>
<text class="d" x="1201" y="1296" textLength="78" lengthAdjust="spacingAndGlyphs">doctorate</text></g>

<g id="doc-abstract">
<path class="doc" d="M1143.3,1435.6H1373.7V1585.6L1354,1586.5V1600H1143.3Z"/>
<path class="doc" d="M1125.7,1455.3H1354V1604.6L1336.4,1605.5V1615H1125.7Z"/>
<path class="doc" d="M1107,1474H1336.4V1623.5C1260,1625 1230,1659 1165,1659C1145,1659 1125,1657 1107,1652Z"/>
<text class="b" x="1122" y="1497" style="font-size:21px">論文概要書等</text>
<text x="1122" y="1523.5" textLength="197" lengthAdjust="spacingAndGlyphs">Abstract of a dissertation</text>
<text class="b" x="1122" y="1550" style="font-size:20.4px">申請時情報フォーム</text>
<text x="1122" y="1576.5" textLength="124.4" lengthAdjust="spacingAndGlyphs">Data entry form</text>
<text class="b" x="1122" y="1603" style="font-size:20.4px">学位申請書・誓約書</text>
<text x="1122" y="1629.5" textLength="191" lengthAdjust="spacingAndGlyphs">Application for Doctoral</text>
<text class="b" x="1085.7" y="1687" style="font-size:21px">受理研究科運営委員会の5日前までに提出</text>
<text x="1085.7" y="1711.4" style="font-size:20px" textLength="594" lengthAdjust="spacingAndGlyphs">Submit no later than 5 days before WEEE faculty committee meeting</text></g>

<g id="acceptance-notice"><path class="gr sh" d="M1408,1197H1479.6V1275H1515L1444,1340.6L1372.6,1275H1408Z"/>
<rect x="1349" y="1213" width="214" height="61" fill="#fff"/>
<text class="d" x="1353" y="1236.4" style="font-size:20px" textLength="201.7" lengthAdjust="spacingAndGlyphs">Notice of allowance for</text>
<text class="d" x="1366" y="1262.5" style="font-size:20px" textLength="175" lengthAdjust="spacingAndGlyphs">doctrate application</text>
<text class="k" x="1401" y="1310">受理通知</text></g>

<g id="pay"><path class="sb sh" d="M1590,1180L1626,1211.5H1608V1281.7H1572V1211.5H1554.7Z"/>
<text class="k" x="1590" y="1214" text-anchor="middle">納</text>
<text class="k" x="1590" y="1238" text-anchor="middle">入</text>
<text class="kl" x="1575.6" y="1271" textLength="31" lengthAdjust="spacingAndGlyphs">Pay</text></g>

<g id="fee"><rect x="1516" y="1288.4" width="170" height="206" class="y"/>
<text class="k" x="1600" y="1320" text-anchor="middle">審査料納付</text>
<text class="k" x="1600" y="1347" text-anchor="middle">（課程外のみ）</text>
<text class="k" x="1600" y="1374" text-anchor="middle" style="font-size:21px">200,000円</text>
<text class="d" x="1550" y="1400.8" textLength="100" lengthAdjust="spacingAndGlyphs">Payment of</text>
<text class="d" x="1542.5" y="1427.7" textLength="115" lengthAdjust="spacingAndGlyphs">screening fee</text>
<text class="d" x="1550.5" y="1453" textLength="99" lengthAdjust="spacingAndGlyphs">200,000JPY</text>
<text class="d" x="1537" y="1479.4" textLength="127" lengthAdjust="spacingAndGlyphs">(Only Kateigai)</text></g>

<g id="presentation2"><path d="M1722,1150L1733,1195H1728.6V1310H1716.5V1195H1711Z" fill="#0066cc" stroke="#222" stroke-width="1"/>
<rect x="1665.5" y="1208" width="168.5" height="75" class="gy sh"/>
<text class="k" x="1684.7" y="1240.4" style="font-size:19px">発表・質疑応答</text>
<text class="d" x="1670.5" y="1266.7" textLength="153.5" lengthAdjust="spacingAndGlyphs">Presentation・Q&amp;A</text></g>

<g id="submit"><rect x="1896.6" y="1221" width="105.9" height="66" class="gy sh"/>
<text class="k" x="1915" y="1248.5">提出</text>
<text class="d" x="1920" y="1274.7" textLength="61.6" lengthAdjust="spacingAndGlyphs">Submit</text></g>

<g id="doc-final">
<path class="doc" d="M1868,1344V1304.4H2274.6V1621Q2255,1621 2240,1623.5V1680H1868Z"/>
<path class="doc" d="M1836.3,1344.8H2240V1663.4L2209,1665.5V1720H1836.3Z"/>
<path class="doc" d="M1802.8,1385.5H2209V1702C2060,1702 2000,1780 1901,1780C1865,1780 1835,1775 1802.8,1763.4Z"/>
<text class="b" x="1815" y="1410">正式論文電子媒体</text>
<text x="1815" y="1434.4" textLength="240" lengthAdjust="spacingAndGlyphs">Electronic data of  dissertation</text>
<text class="b" x="1815" y="1485.4">論文概要書電子媒体</text>
<text x="1815" y="1510.5" textLength="334" lengthAdjust="spacingAndGlyphs">Electronic data of  abstract of  dissertation</text>
<text class="b" x="1815" y="1558.6" textLength="307" lengthAdjust="spacingAndGlyphs">博士学位論文インターネット公開留保</text>
<text class="b" x="1815" y="1583.8" textLength="302.7" lengthAdjust="spacingAndGlyphs">申請書（公開できない場合のみ提出）</text>
<text x="1815" y="1607" textLength="170" lengthAdjust="spacingAndGlyphs">Doctorial Dissertation</text>
<text x="1815" y="1631" textLength="295" lengthAdjust="spacingAndGlyphs">Withholding Request Form for Online</text>
<text x="1815" y="1655" textLength="358.6" lengthAdjust="spacingAndGlyphs">Publication(only when withhold dissertation )</text>
<text class="b" x="1800" y="1809.5" style="font-size:21px">合否判定研究科運営委員会の1週間前までに提出</text>
<text x="1800" y="1832.5" style="font-size:20px" textLength="622" lengthAdjust="spacingAndGlyphs">Submit no later than 1week before Graduate school steering committee</text></g>

<g id="revise"><path class="pb" d="M2201,1245.6H2367V1305L2358,1313.7H2201Z"/><path class="fp" d="M2367,1305L2358,1313.7L2360.7,1306Z"/>
<text class="b" x="2206" y="1270.6">博士論文の修正</text>
<text x="2206" y="1295" textLength="144" lengthAdjust="spacingAndGlyphs">Revise of Dr thesis</text></g>

<g id="attend"><path class="sb sh" d="M2376.6,1320.8H2450V1288.4L2489,1351.5L2450,1416V1384H2376.6Z"/>
<text class="k" x="2401" y="1345">出席</text>
<text class="d" x="2394.7" y="1371.4" textLength="59" lengthAdjust="spacingAndGlyphs">Attend</text></g>
</svg>
